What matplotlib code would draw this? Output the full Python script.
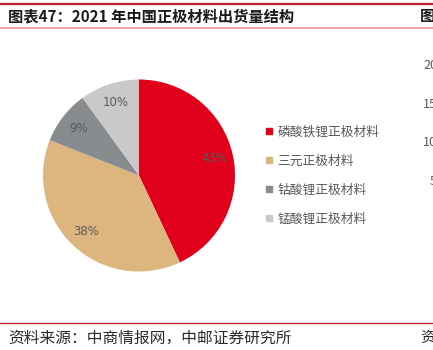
import matplotlib.pyplot as plt
from matplotlib.lines import Line2D

plt.rcParams['font.family'] = ['Noto Sans CJK SC', 'DejaVu Sans']

# 2021 cathode material shipment shares (%)
materials = ['磷酸铁锂正极材料', '三元正极材料', '钴酸锂正极材料', '锰酸锂正极材料']
shares = [43, 38, 9, 10]
colors = ['#E0001B', '#DDB67F', '#898C8F', '#C9C9C9']

title = '图表47：2021 年中国正极材料出货量结构'
source = '资料来源：中商情报网，中邮证券研究所'

# tick labels of the next chart that peeks in on the right
next_ticks = [5, 10, 15, 20]

W, H = 433, 350
fig = plt.figure(figsize=(W / 100, H / 100), dpi=100)


def fx(x):
    return x / W


def fy(y):
    return 1 - y / H


# header / footer rules
fig.add_artist(Line2D([0, 1], [fy(3.5), fy(3.5)], color='#C41E2A', lw=1.6))
fig.add_artist(Line2D([0, 1], [fy(27.5), fy(27.5)], color='#E8878C', lw=1.1))
fig.add_artist(Line2D([0, 1], [fy(323), fy(323)], color='#C0282D', lw=1.0))

fig.text(fx(8), fy(16), title, fontsize=11, fontweight='bold',
         color='#1a1a1a', va='center', ha='left')
fig.text(fx(420), fy(16), '图', fontsize=11, fontweight='bold',
         color='#1a1a1a', va='center', ha='left')
fig.text(fx(8), fy(338), source, fontsize=11.3, color='#2a2a2a',
         va='center', ha='left')
fig.text(fx(420), fy(338), '资', fontsize=11, color='#2a2a2a',
         va='center', ha='left')

# pie
cx, cy, r = 139, 175.5, 96
ax = fig.add_axes([fx(cx - r), fy(cy + r), 2 * r / W, 2 * r / H])
wedges, _, autotexts = ax.pie(
    shares, colors=colors, startangle=90, counterclock=False,
    autopct='%d%%', pctdistance=0.8,
    textprops=dict(color='#5a5a5a', fontsize=8.5, family='DejaVu Sans'),
)
ax.set_xlim(-1, 1)
ax.set_ylim(-1, 1)

handles = [Line2D([], [], marker='s', linestyle='none', markersize=4,
                  markerfacecolor=c, markeredgecolor=c) for c in colors]
leg = fig.legend(handles, materials, loc='upper left',
                 bbox_to_anchor=(fx(266), fy(125.5)), frameon=False,
                 fontsize=9.2, labelspacing=1.25, handlelength=0.5,
                 handletextpad=0.4, borderpad=0, borderaxespad=0)
for t in leg.get_texts():
    t.set_color('#595959')

# neighbouring chart's axis, mostly off the canvas
ax2 = fig.add_axes([fx(442), fy(219), 0.3, (219 - 64) / H])
ax2.set_ylim(0, 20)
ax2.set_yticks(next_ticks)
ax2.set_xticks([])
ax2.tick_params(axis='y', length=0, labelsize=9, labelcolor='#595959')
for s in ax2.spines.values():
    s.set_visible(False)

fig.savefig('out.png', dpi=100)
